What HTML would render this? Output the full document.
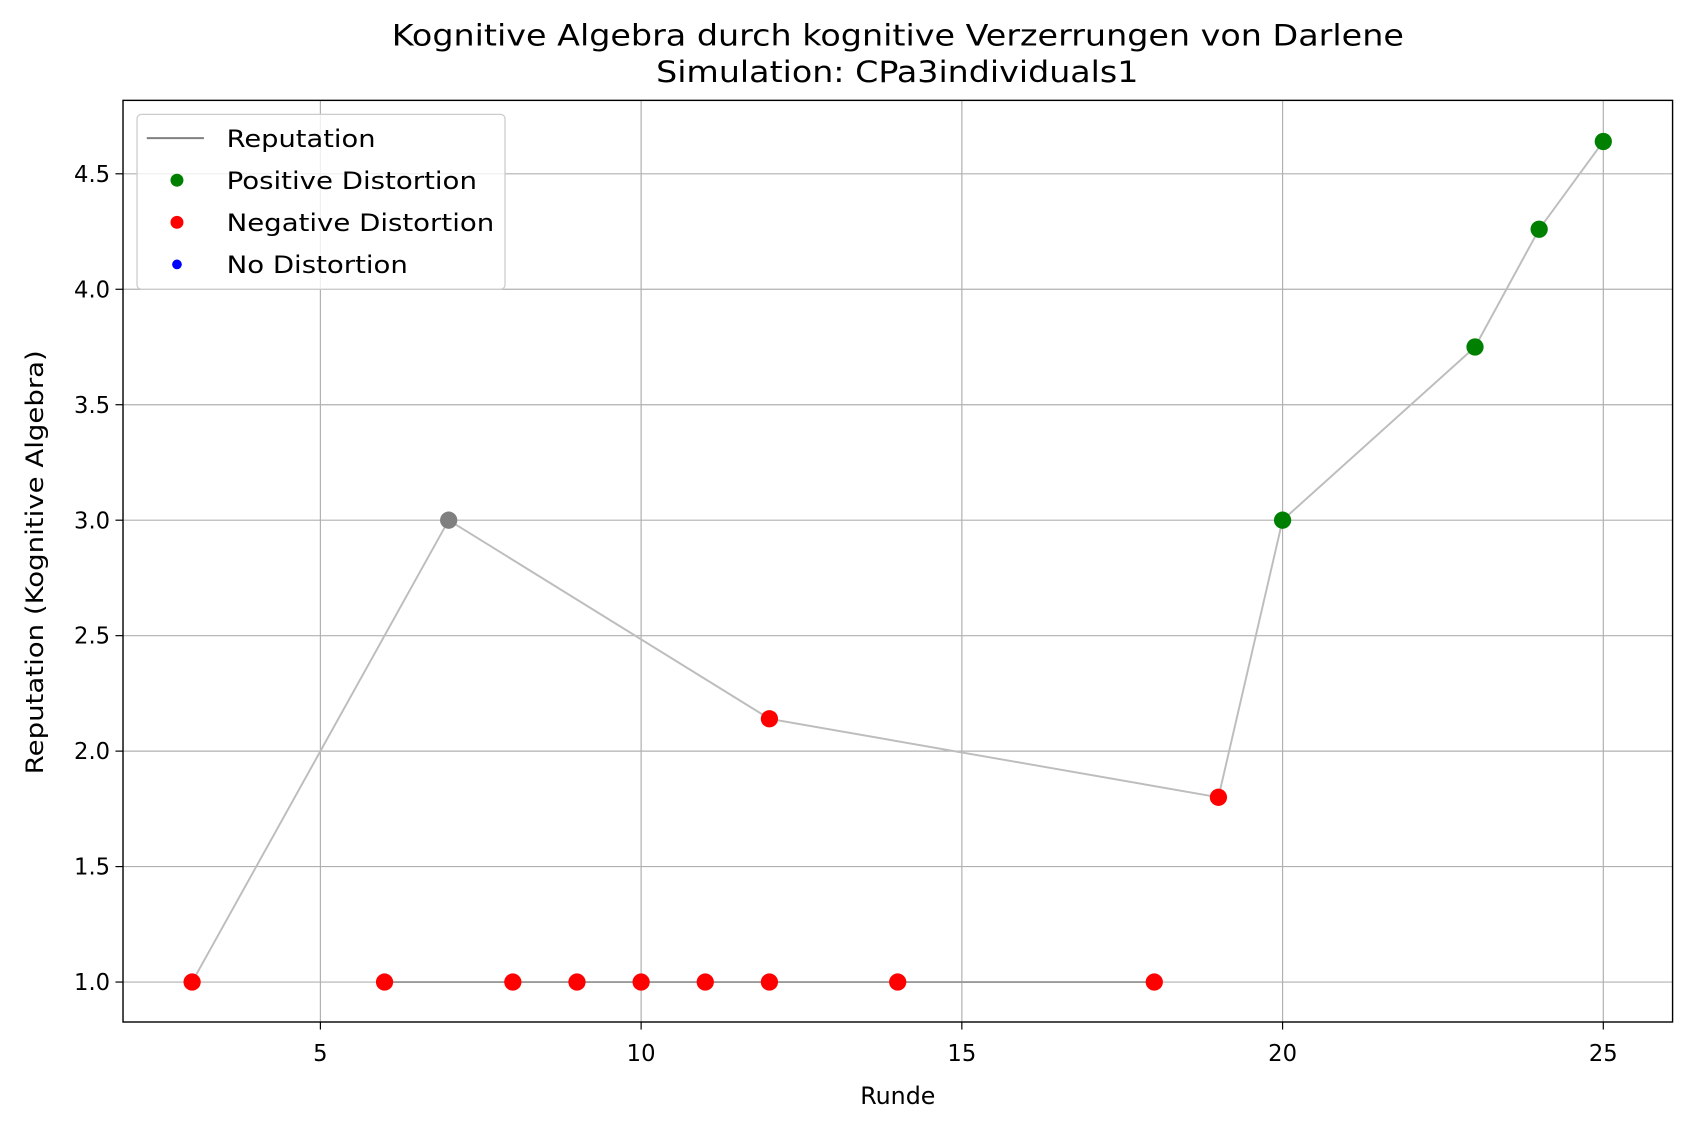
<!DOCTYPE html>
<html><head><meta charset="utf-8"><style>
html,body{margin:0;padding:0;background:#fff;}
svg{display:block;font-family:"DejaVu Sans","Liberation Sans",sans-serif;}
</style></head><body>
<svg id="chart" width="1692" height="1131" viewBox="0 0 1568 1048" preserveAspectRatio="none" xmlns="http://www.w3.org/2000/svg"></svg>
<script>
const xTicks=[5,10,15,20,25];
const yTicks=[1.0,1.5,2.0,2.5,3.0,3.5,4.0,4.5];
const pathRounds=[3,7,12,19,20,23,24,25];
const pathValues=[1,3,2.14,1.8,3,3.75,4.26,4.64];
const flatRounds=[6,18];
const flatValues=[1,1];
const negRounds=[3,6,8,9,10,11,12,14,18,12,19];
const negValues=[1,1,1,1,1,1,1,1,1,2.14,1.8];
const posRounds=[20,23,24,25];
const posValues=[3,3.75,4.26,4.64];
const neutralRounds=[7];
const neutralValues=[3];

const L=114,R=1550,T=93,B=947;
const xMin=1.923,xMax=26.08,yMin=0.827,yMax=4.818;
const sx=v=>L+(v-xMin)/(xMax-xMin)*(R-L);
const sy=v=>B-(v-yMin)/(yMax-yMin)*(B-T);
const svg=document.getElementById('chart');
const NS='http://www.w3.org/2000/svg';
function mk(tag,attrs,name,text){const e=document.createElementNS(NS,tag);for(const k in attrs)e.setAttribute(k,attrs[k]);


if(text!==undefined)e.textContent=text;svg.appendChild(e);return e;}

xTicks.forEach(t=>{const x=sx(t);
mk('line',{x1:x,x2:x,y1:T,y2:B,stroke:'#b0b0b0','stroke-width':1.1},'x-grid-line');
mk('line',{x1:x,x2:x,y1:B,y2:B+7,stroke:'#000','stroke-width':1.1},'x-tick');
mk('text',{x:x,y:B+36,'text-anchor':'middle','font-size':21},'x-tick-label',String(t));});
yTicks.forEach(t=>{const y=sy(t);
mk('line',{x1:L,x2:R,y1:y,y2:y,stroke:'#b0b0b0','stroke-width':1.1},'y-grid-line');
mk('line',{x1:L-7,x2:L,y1:y,y2:y,stroke:'#000','stroke-width':1.1},'y-tick');
mk('text',{x:L-12,y:y+7.5,'text-anchor':'end','font-size':21},'y-tick-label',t.toFixed(1));});

mk('polyline',{points:pathRounds.map((r,i)=>sx(r)+','+sy(pathValues[i])).join(' '),fill:'none',stroke:'#bdbdbd','stroke-width':1.8},'reputation-line');
mk('polyline',{points:flatRounds.map((r,i)=>sx(r)+','+sy(flatValues[i])).join(' '),fill:'none',stroke:'#999','stroke-width':1.8},'reputation-line-flat');

neutralRounds.forEach((r,i)=>mk('circle',{cx:sx(r),cy:sy(neutralValues[i]),r:8,fill:'#808080'},'neutral-point'));
negRounds.forEach((r,i)=>mk('circle',{cx:sx(r),cy:sy(negValues[i]),r:8,fill:'#ff0000'},'negative-point'));
posRounds.forEach((r,i)=>mk('circle',{cx:sx(r),cy:sy(posValues[i]),r:8,fill:'#008000'},'positive-point'));

mk('rect',{x:L,y:T,width:R-L,height:B-T,fill:'none',stroke:'#000','stroke-width':1.3},'plot-frame');

mk('text',{x:363,y:42,'font-size':27,textLength:938,lengthAdjust:'spacingAndGlyphs'},'chart-title','Kognitive Algebra durch kognitive Verzerrungen von Darlene');
mk('text',{x:608,y:76,'font-size':27,textLength:447,lengthAdjust:'spacingAndGlyphs'},'chart-subtitle','Simulation: CPa3individuals1');
mk('text',{x:832,y:1023,'text-anchor':'middle','font-size':22},'x-axis-title','Runde');
mk('text',{x:40,y:521,'text-anchor':'middle','font-size':22,textLength:393,lengthAdjust:'spacingAndGlyphs',transform:'rotate(-90 40 521)'},'y-axis-title','Reputation (Kognitive Algebra)');

mk('rect',{x:127,y:106,width:341,height:162,rx:4,fill:'#fff','fill-opacity':0.8,stroke:'#ccc','stroke-width':1.2},'legend-box');
mk('line',{x1:136,x2:189,y1:128,y2:128,stroke:'#808080','stroke-width':1.8},'legend-line-sample');
mk('text',{x:210,y:136,'font-size':22.5,textLength:138,lengthAdjust:'spacingAndGlyphs'},'legend-label-reputation','Reputation');
const legCols=['#008000','#ff0000','#0000ff'];
const legLabels=['Positive Distortion','Negative Distortion','No Distortion'];
const legWidths=[232,248,168];
legLabels.forEach((lab,i)=>{const y=167+i*39;
mk('circle',{cx:164,cy:y,r:i===2?4.5:6,fill:legCols[i]},'legend-marker');
mk('text',{x:210,y:y+8,'font-size':22.5,textLength:legWidths[i],lengthAdjust:'spacingAndGlyphs'},'legend-label',lab);});
</script>
</body></html>
